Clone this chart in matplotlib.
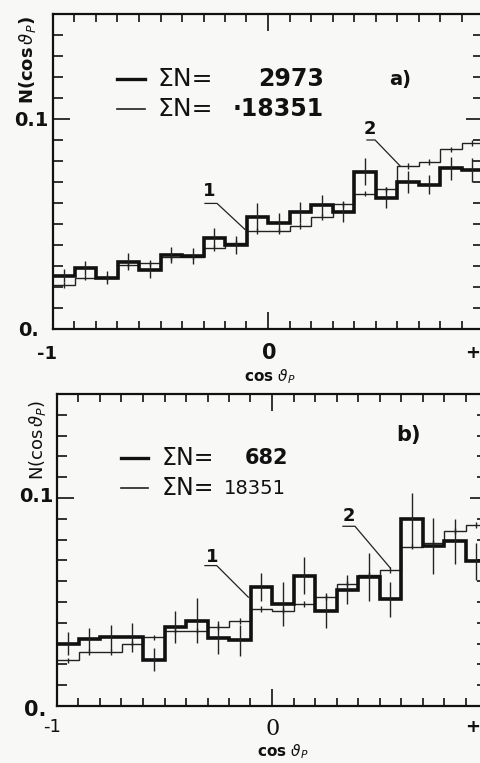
import numpy as np
import matplotlib
matplotlib.use("Agg")
import matplotlib.pyplot as plt
from matplotlib.ticker import MultipleLocator, FixedLocator

# ---------------- data ----------------
bin_edges = [-1.0, -0.9, -0.8, -0.7, -0.6, -0.5, -0.4, -0.3, -0.2, -0.1, 0.0,
             0.1, 0.2, 0.3, 0.4, 0.5, 0.6, 0.7, 0.8, 0.9, 1.0]

# panel a)
a_thick = [0.0254, 0.0290, 0.0245, 0.0320, 0.0282, 0.0352, 0.0348, 0.0434, 0.0400, 0.0535,
           0.0506, 0.0555, 0.0590, 0.0557, 0.0750, 0.0625, 0.0700, 0.0686, 0.0765, 0.0757]
a_thick_err = [0.0032, 0.0035, 0.0032, 0.0040, 0.0038, 0.0040, 0.0040, 0.0045, 0.0042, 0.0065,
               0.0045, 0.0050, 0.0050, 0.0048, 0.0065, 0.0050, 0.0052, 0.0045, 0.0055, 0.0055]
a_thin = [0.0210, 0.0245, 0.0245, 0.0306, 0.0315, 0.0343, 0.0345, 0.0386, 0.0410, 0.0466,
          0.0466, 0.0490, 0.0534, 0.0595, 0.0645, 0.0665, 0.0777, 0.0796, 0.0856, 0.0885]
a_thin_err = [0.0013] * 20

# panel b)
b_thick = [0.0300, 0.0320, 0.0330, 0.0330, 0.0223, 0.0380, 0.0411, 0.0328, 0.0315, 0.0572,
           0.0491, 0.0627, 0.0459, 0.0560, 0.0620, 0.0513, 0.0898, 0.0770, 0.0791, 0.0695]
b_thick_err = [0.0056, 0.0056, 0.0060, 0.0070, 0.0056, 0.0075, 0.0110, 0.0080, 0.0075, 0.0068,
               0.0107, 0.0090, 0.0083, 0.0068, 0.0115, 0.0083, 0.0128, 0.0136, 0.0107, 0.0088]
b_thin = [0.0220, 0.0260, 0.0260, 0.0300, 0.0330, 0.0362, 0.0362, 0.0380, 0.0408, 0.0467,
          0.0459, 0.0491, 0.0523, 0.0588, 0.0630, 0.0654, 0.0766, 0.0786, 0.0842, 0.0871]
b_thin_err = [0.0013] * 20

legend_a = [("ΣN=", "2973"), ("ΣN=", "·18351")]
legend_b = [("ΣN=", "682"), ("ΣN=", "18351")]

# ---------------- figure ----------------
W, H = 481, 763
BG = "#f8f8f6"
fig = plt.figure(figsize=(W / 100, H / 100), dpi=100, facecolor=BG)

def px(x, y):
    return x / W, 1 - y / H

def make_axes(left, top, bottom):
    ax = fig.add_axes([left / W, 1 - bottom / H, 430 / W, (bottom - top) / H])
    ax.set_facecolor(BG)
    ax.set_xlim(-1, 1)
    ax.set_ylim(0, 0.15)
    ax.xaxis.set_major_locator(FixedLocator([-1, 0, 1]))
    ax.xaxis.set_minor_locator(MultipleLocator(0.1))
    ax.yaxis.set_major_locator(FixedLocator([0, 0.1]))
    ax.yaxis.set_minor_locator(MultipleLocator(0.01))
    ax.tick_params(which="both", direction="in", top=True, right=True,
                   labelbottom=False, labelleft=False, width=1.2, color="#111111")
    ax.tick_params(which="major", length=12)
    ax.tick_params(axis="x", which="minor", length=6)
    ax.tick_params(axis="y", which="minor", length=7)
    for s in ax.spines.values():
        s.set_linewidth(1.6)
        s.set_color("#111111")
    return ax

def draw_panel(ax, thick, thick_err, thin, thin_err):
    edges = np.array(bin_edges)
    centers = (edges[:-1] + edges[1:]) / 2
    ax.stairs(thin, edges, color="#222222", lw=1.0, baseline=None)
    ax.vlines(centers, np.array(thin) - np.array(thin_err),
              np.array(thin) + np.array(thin_err), color="#222222", lw=1.0)
    ax.stairs(thick, edges, color="#111111", lw=2.6, baseline=None)
    ax.vlines(centers, np.array(thick) - np.array(thick_err),
              np.array(thick) + np.array(thick_err), color="#222222", lw=1.0)

def leader(ax, label, tx, ty, stub, end):
    ax.text(tx, ty, label, ha="center", va="center", fontsize=13,
            fontweight="bold", color="#111111")
    ax.plot([stub[0], stub[1], end[0]], [stub[2], stub[2], end[1]],
            color="#222222", lw=0.9)

# ---------- panel a ----------
axa = make_axes(53, 14, 329)
draw_panel(axa, a_thick, a_thick_err, a_thin, a_thin_err)
leader(axa, "1", -0.272, 0.0655, (-0.293, -0.237, 0.0598), (-0.107, 0.0474))
leader(axa, "2", 0.474, 0.0952, (0.4605, 0.498, 0.090), (0.614, 0.0777))

# legend a
fig.lines.append(plt.Line2D([117 / W, 145 / W], [px(0, 79)[1]] * 2, color="#111111", lw=2.4,
                            transform=fig.transFigure))
fig.lines.append(plt.Line2D([117 / W, 145 / W], [px(0, 109)[1]] * 2, color="#222222", lw=1.2,
                            transform=fig.transFigure))
for (lab, num), yy in zip(legend_a, [79, 109]):
    fig.text(*px(157, yy), lab, ha="left", va="center", fontsize=18, color="#111111")
    fig.text(*px(324, yy), num, ha="right", va="center", fontsize=17, fontweight="bold",
             color="#111111")
fig.text(*px(400, 79), "a)", ha="center", va="center", fontsize=14, fontweight="bold",
         color="#111111")

# axis texts a
fig.text(*px(28, 60), r"N(cos$\,\vartheta_P$)", rotation=90, ha="center", va="center",
         fontsize=13, fontweight="bold", color="#111111")
fig.text(*px(31, 121), "0.1", ha="center", va="center", fontsize=14, fontweight="bold",
         color="#111111")
fig.text(*px(29, 331), "0.", ha="center", va="center", fontsize=14, fontweight="bold",
         color="#111111")
fig.text(*px(47, 354), "-1", ha="center", va="center", fontsize=13, fontweight="bold",
         color="#111111")
fig.text(*px(269, 353), "0", ha="center", va="center", fontsize=15, fontweight="bold",
         color="#111111")
fig.text(*px(480, 353), "+", ha="right", va="center", fontsize=13, fontweight="bold",
         color="#111111")
fig.text(*px(270, 377), r"cos $\vartheta_P$", ha="center", va="center", fontsize=11,
         fontweight="bold", color="#111111")

# ---------- panel b ----------
axb = make_axes(57, 394, 706)
draw_panel(axb, b_thick, b_thick_err, b_thin, b_thin_err)
leader(axb, "1", -0.279, 0.0718, (-0.312, -0.257, 0.0675), (-0.110, 0.0523))
leader(axb, "2", 0.358, 0.0914, (0.330, 0.386, 0.0864), (0.549, 0.0665))

fig.lines.append(plt.Line2D([121 / W, 148 / W], [px(0, 458)[1]] * 2, color="#111111", lw=2.4,
                            transform=fig.transFigure))
fig.lines.append(plt.Line2D([121 / W, 148 / W], [px(0, 488)[1]] * 2, color="#222222", lw=1.2,
                            transform=fig.transFigure))
fig.text(*px(162, 458), legend_b[0][0], ha="left", va="center", fontsize=17, color="#111111")
fig.text(*px(288, 458), legend_b[0][1], ha="right", va="center", fontsize=15, fontweight="bold",
         color="#111111")
fig.text(*px(162, 488), legend_b[1][0], ha="left", va="center", fontsize=17, color="#111111")
fig.text(*px(286, 488), legend_b[1][1], ha="right", va="center", fontsize=14, color="#111111")
fig.text(*px(409, 435), "b)", ha="center", va="center", fontsize=15, fontweight="bold",
         color="#111111")

fig.text(*px(37, 440), r"N(cos$\,\vartheta_P$)", rotation=90, ha="center", va="center",
         fontsize=13, color="#111111")
fig.text(*px(36, 497), "0.1", ha="center", va="center", fontsize=14, fontweight="bold",
         color="#111111")
fig.text(*px(35, 710), "0.", ha="center", va="center", fontsize=15, fontweight="bold",
         color="#111111")
fig.text(*px(52, 727), "-1", ha="center", va="center", fontsize=13, color="#111111")
fig.text(*px(273, 729), "0", ha="center", va="center", fontsize=16, color="#111111",
         family="DejaVu Serif")
fig.text(*px(480, 727), "+", ha="right", va="center", fontsize=13, fontweight="bold",
         color="#111111")
fig.text(*px(283, 752), r"cos $\vartheta_P$", ha="center", va="center", fontsize=11,
         fontweight="bold", color="#111111")

fig.savefig("out.png", dpi=100, facecolor=BG)
